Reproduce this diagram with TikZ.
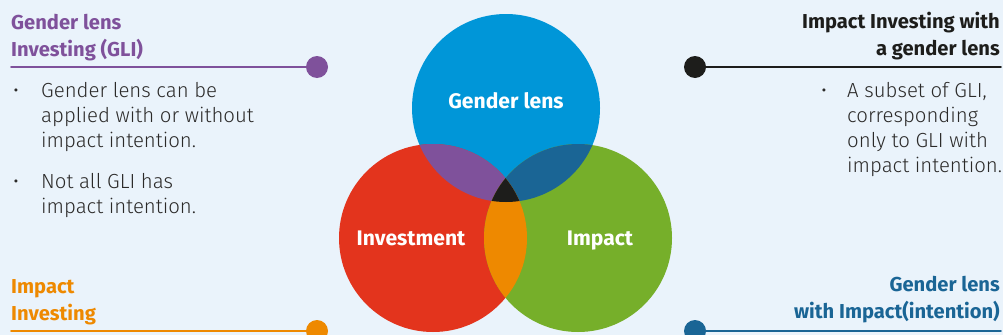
\documentclass[tikz,border=0pt]{standalone}
\usepackage{fontspec}
\setmainfont{Fira Sans}
\newfontfamily\lightfont{Fira Sans Light}
\usetikzlibrary{positioning}
\definecolor{bgblue}{HTML}{EAF3FB}
\definecolor{glipurple}{HTML}{7F519B}
\definecolor{genderblue}{HTML}{0096D8}
\definecolor{investred}{HTML}{E3341D}
\definecolor{impactgreen}{HTML}{76AF2A}
\definecolor{withblue}{HTML}{1A6595}
\definecolor{iiorange}{HTML}{EE8900}
\definecolor{coreblack}{HTML}{1D1D1B}
\definecolor{textgrey}{HTML}{2B2A29}

\begin{document}
\begin{tikzpicture}[line cap=round,line join=round,x=0.03cm,y=-0.03cm,
  dot/.style={circle,inner sep=0pt,minimum size=0.66cm},
  heading/.style={font=\fontsize{17.2}{22.5}\selectfont\bfseries,inner sep=0pt},
  bodytext/.style={font=\fontsize{17.4}{21.3}\selectfont\lightfont,inner sep=0pt,text=textgrey},
  venn/.style={font=\fontsize{18}{20}\selectfont\bfseries,text=white,inner sep=0pt,anchor=base}]

    \fill[bgblue] (0,0) rectangle (1003,335);
    \useasboundingbox (0,0) rectangle (1003,335);

	% three circles
    \fill[genderblue] (506,108) circle (94);
    \fill[investred] (433,238) circle (94);
    \fill[impactgreen] (578,238) circle (94);
    \begin{scope}
      \clip (506,108) circle (94);
      \fill[glipurple] (433,238) circle (94);
      \fill[withblue] (578,238) circle (94);
    \end{scope}
    \begin{scope}
      \clip (433,238) circle (94);
      \fill[iiorange] (578,238) circle (94);
      \clip (506,108) circle (94);
      \fill[coreblack] (578,238) circle (94);
    \end{scope}

    \node[venn] (gender) at (506,108) {Gender lens};
    \node[venn] (invest) at (411,245) {Investment};
    \node[venn] (impact) at (600,245) {Impact};

	% top left
    \node[heading,text=glipurple,anchor=base west,align=left] (glihead) at (11,56) {Gender lens\\Investing (GLI)};
    \coordinate (glistart) at (11,67);
    \node[dot,fill=glipurple] (glidot) at (317,67) {};
    \draw[line width=1.3pt,glipurple] (glistart) -- (glidot);
    \node[bodytext,anchor=base west] (glibull1) at (13,97) {•};
    \node[bodytext,anchor=base west,align=left] (glitext1) at (41,147) {Gender lens can be\\applied with or without\\impact intention.};
    \node[bodytext,anchor=base west] (glibull2) at (13,188) {•};
    \node[bodytext,anchor=base west,align=left] (glitext2) at (41,213) {Not all GLI has\\impact intention.};

	% top right
    \node[heading,text=coreblack,anchor=base east,align=right] (iiglhead) at (1000,55) {Impact Investing with\\a gender lens};
    \coordinate (iiglend) at (1001,67);
    \node[dot,fill=coreblack] (iigldot) at (695,67) {};
    \draw[line width=1.3pt,coreblack] (iigldot) -- (iiglend);
    \node[bodytext,anchor=base west] (iiglbull) at (821,97) {•};
    \node[bodytext,anchor=base west,align=left] (iigltext) at (847,172) {A subset of GLI,\\corresponding\\only to GLI with\\impact intention.};

	% bottom left
    \node[heading,text=iiorange,anchor=base west,align=left] (iihead) at (11,320) {Impact\\Investing};
    \coordinate (iistart) at (11,331);
    \node[dot,fill=iiorange] (iidot) at (317,331) {};
    \draw[line width=1.3pt,iiorange] (iistart) -- (iidot);

	% bottom right
    \node[heading,text=withblue,anchor=base east,align=right] (withhead) at (1000,318) {Gender lens\\with Impact(intention)};
    \coordinate (withend) at (1001,331);
    \node[dot,fill=withblue] (withdot) at (695,331) {};
    \draw[line width=1.3pt,withblue] (withdot) -- (withend);
\end{tikzpicture}
\end{document}
